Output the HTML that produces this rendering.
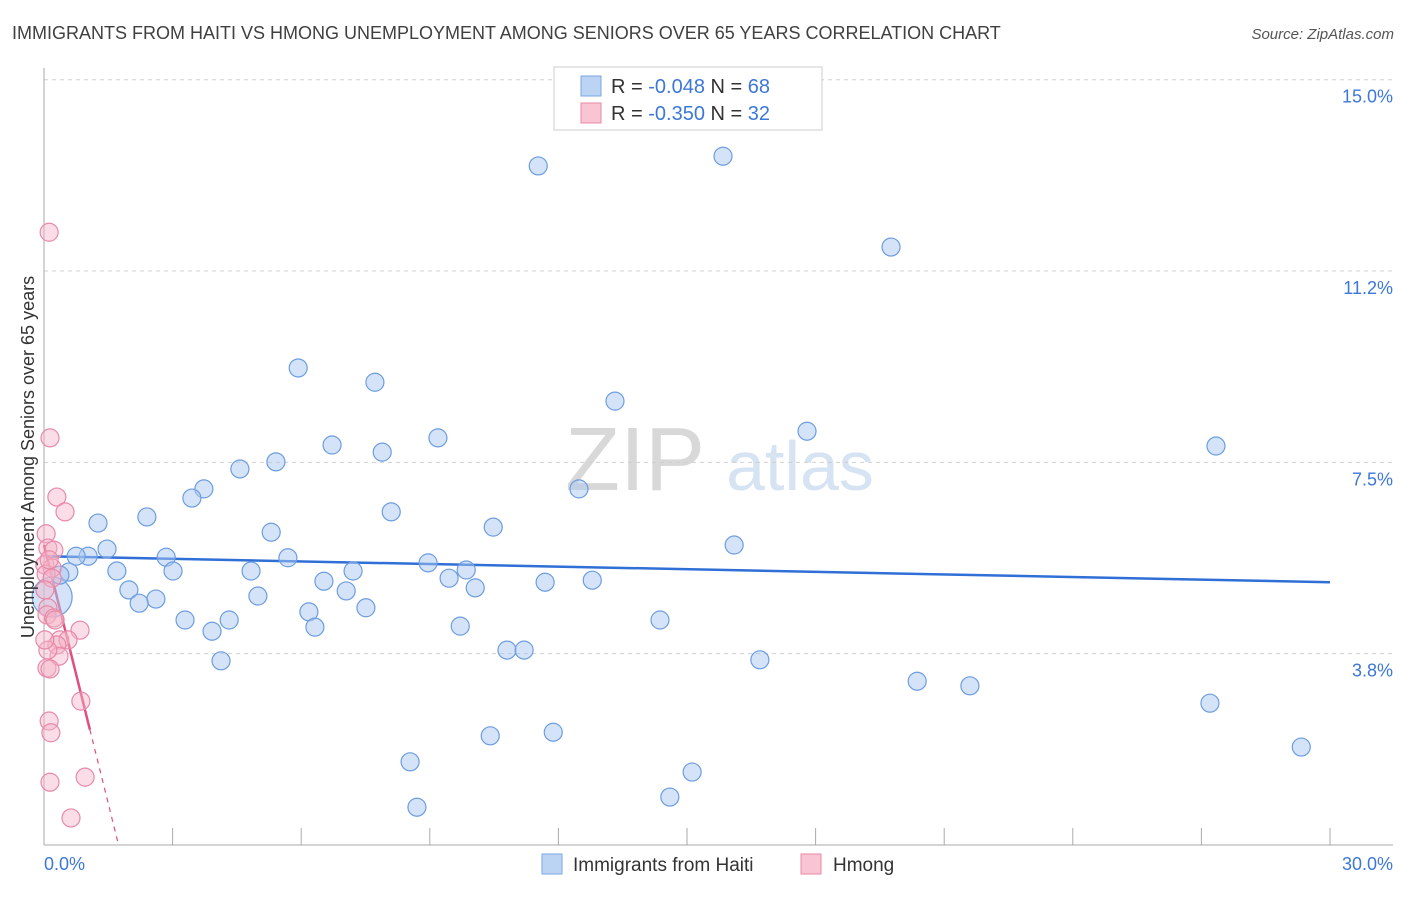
<!DOCTYPE html>
<html><head><meta charset="utf-8"><style>
body{margin:0;background:#fff;font-family:"Liberation Sans",sans-serif;}
svg text{font-family:"Liberation Sans",sans-serif;}
</style></head><body>
<svg id="chart" width="1406" height="892">
<text x="12" y="39" font-size="18" fill="#404040">IMMIGRANTS FROM HAITI VS HMONG UNEMPLOYMENT AMONG SENIORS OVER 65 YEARS CORRELATION CHART</text>
<text x="1394" y="39" font-size="15" fill="#555" text-anchor="end" font-style="italic">Source: ZipAtlas.com</text>
<text x="635" y="490" font-size="90" fill="#d8d8d8" font-family="Liberation Serif" text-anchor="middle">ZIP</text>
<text x="800" y="490" font-size="70" fill="#d6e3f3" text-anchor="middle">atlas</text>
<g id="grid"></g><g id="axes"></g><g id="trend"></g><g id="pts"></g>
<text transform="translate(34,457) rotate(-90)" font-size="18" fill="#333" text-anchor="middle">Unemployment Among Seniors over 65 years</text>
<g>
<rect x="554" y="67" width="268" height="63" fill="#fff" stroke="#ccc"/>
<rect x="581" y="76" width="20" height="20" fill="#bcd4f4" stroke="#7aa6e0"/>
<text x="611" y="93" font-size="20" fill="#333">R = <tspan fill="#3c78d8">-0.048</tspan>   N = <tspan fill="#3c78d8">68</tspan></text>
<rect x="581" y="103" width="20" height="20" fill="#f9c4d3" stroke="#e88aa8"/>
<text x="611" y="120" font-size="20" fill="#333">R = <tspan fill="#3c78d8">-0.350</tspan>   N = <tspan fill="#3c78d8">32</tspan></text>
</g>
<g>
<rect x="542" y="854" width="20" height="20" fill="#bcd4f4" stroke="#7aa6e0"/>
<text x="573" y="871" font-size="19" fill="#333">Immigrants from Haiti</text>
<rect x="801" y="854" width="20" height="20" fill="#f9c4d3" stroke="#e88aa8"/>
<text x="833" y="871" font-size="19" fill="#333">Hmong</text>
</g>
</svg>
<script>
const haitiX=[11.53,15.84,19.76,5.93,7.72,13.32,17.80,6.72,9.19,7.89,27.34,4.57,5.41,3.73,3.45,12.48,8.10,2.40,1.26,5.30,10.48,16.10,1.47,1.03,0.75,2.85,5.69,8.96,1.70,3.01,4.83,7.21,9.85,0.58,6.53,9.45,11.69,12.79,1.98,7.05,10.06,2.61,2.22,4.99,6.18,7.51,3.29,4.32,14.37,3.92,6.32,9.71,10.80,11.20,4.13,16.70,20.37,21.60,27.20,10.41,11.88,29.33,8.54,15.12,8.70,14.60,0.19,0.37];
const haitiY=[13.31,13.50,11.72,9.35,9.07,8.70,8.11,7.84,7.98,7.70,7.82,7.37,7.51,6.98,6.80,6.98,6.53,6.43,6.31,6.13,6.23,5.88,5.80,5.66,5.66,5.64,5.63,5.53,5.37,5.37,5.37,5.37,5.39,5.35,5.17,5.23,5.15,5.19,5.00,4.98,5.04,4.82,4.74,4.88,4.57,4.65,4.41,4.41,4.41,4.19,4.27,4.29,3.82,3.82,3.61,3.63,3.21,3.12,2.78,2.14,2.21,1.92,1.63,1.43,0.74,0.94,4.86,5.29];
const hmongX=[0.12,0.14,0.30,0.49,0.05,0.09,0.23,0.02,0.19,0.05,0.19,0.02,0.09,0.07,0.23,0.84,0.37,0.56,0.30,0.35,0.09,0.07,0.14,0.86,0.12,0.16,0.14,0.96,0.63,0.02,0.26,0.12];
const hmongY=[12.01,7.98,6.82,6.53,6.10,5.82,5.78,5.49,5.43,5.31,5.23,5.00,4.65,4.51,4.45,4.21,4.02,4.02,3.92,3.70,3.82,3.47,3.45,2.82,2.43,2.20,1.23,1.33,0.53,4.02,4.41,5.59];
const haitiTrend=[5.66,5.15];
const hmongTrend=[5.88,-3.38];
const yTicks=[3.75,7.5,11.25,15];
const yTickLabels=["3.8%","7.5%","11.2%","15.0%"];
const xTicks=[3,6,9,12,15,18,21,24,27,30];
const NS="http://www.w3.org/2000/svg";
const sx=v=>44+v/30*1286;
const sy=v=>845-v*51.02;
function mk(p,t,a){const e=document.createElementNS(NS,t);for(const k in a)e.setAttribute(k,a[k]);document.getElementById(p).appendChild(e);return e;}
yTicks.forEach((v,i)=>{
 const l=mk('grid','line',{x1:44,x2:1393,y1:sy(v),y2:sy(v),stroke:'#d0d0d0','stroke-dasharray':'4,4'});
 
 
 const t=mk('grid','text',{x:1393,y:sy(v)+23,'font-size':18,fill:'#3c78d8','text-anchor':'end'});
 t.textContent=yTickLabels[i];
 
 
});
let a=mk('axes','line',{x1:44,x2:44,y1:68,y2:845,stroke:'#aaa'});


a=mk('axes','line',{x1:44,x2:1393,y1:845,y2:845,stroke:'#aaa'});


xTicks.forEach(v=>{
 const l=mk('axes','line',{x1:sx(v),x2:sx(v),y1:828,y2:845,stroke:'#aaa'});
 
 
});
let t=mk('axes','text',{x:44,y:870,'font-size':18,fill:'#3c78d8'});t.textContent='0.0%';


t=mk('axes','text',{x:1393,y:870,'font-size':18,fill:'#3c78d8','text-anchor':'end'});t.textContent='30.0%';


haitiX.forEach((x,i)=>{
 const big=i===66;
 const c=mk('pts','circle',{cx:sx(x),cy:sy(haitiY[i]),r:big?20:9,fill:'#a9c7ef','fill-opacity':0.5,stroke:'#6c9de0','stroke-width':1.2});
 
 
});
hmongX.forEach((x,i)=>{
 const c=mk('pts','circle',{cx:sx(x),cy:sy(hmongY[i]),r:9,fill:'#f5b3c7','fill-opacity':0.45,stroke:'#e889a8','stroke-width':1.2});
 
 
});
let tl=mk('trend','line',{x1:sx(0),y1:sy(haitiTrend[0]),x2:sx(30),y2:sy(haitiTrend[1]),stroke:'#2f6fd6','stroke-width':2.5});


const hx1=1.07, hx0=-hmongTrend[0]/hmongTrend[1];
tl=mk('trend','line',{x1:sx(0),y1:sy(hmongTrend[0]),x2:sx(hx1),y2:sy(hmongTrend[0]+hmongTrend[1]*hx1),stroke:'#e0507e','stroke-width':2.5});


tl=mk('trend','line',{x1:sx(hx1),y1:sy(hmongTrend[0]+hmongTrend[1]*hx1),x2:sx(hx0),y2:sy(0),stroke:'#e0507e','stroke-width':1.2,'stroke-dasharray':'5,5'});


</script>
</body></html>
